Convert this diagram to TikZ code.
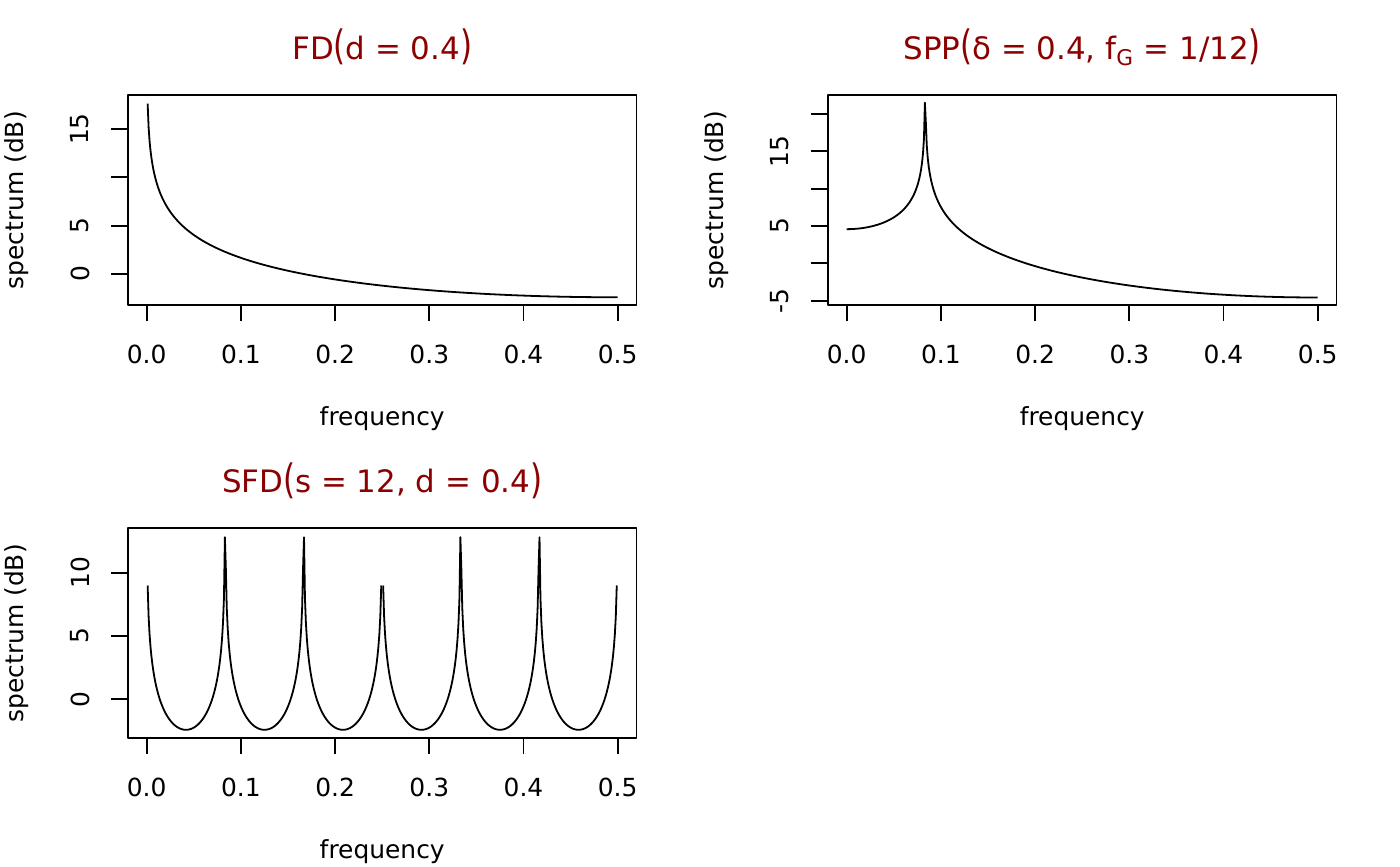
\documentclass[tikz,border=0pt]{standalone}
\usepackage{fontspec}
\setmainfont{DejaVu Sans}
\usepackage{graphicx}

\definecolor{titlered}{RGB}{139,0,0}

% Tall brackets of the titles
\newcommand{\tlpar}{\raisebox{-0.02em}{\scalebox{1}[1.31]{(}}}
\newcommand{\trpar}{\raisebox{-0.02em}{\scalebox{1}[1.31]{)}}}

\begin{document}
\begin{tikzpicture}[x=0.5bp,y=-0.5bp,line width=0.9bp,line join=round]

\tikzset{
    axlabel/.style={inner sep=0pt, font=\fontsize{12.5}{15}\selectfont},
    ylabel/.style={axlabel, rotate=90},
    plottitle/.style={inner sep=0pt, anchor=base, text=titlered,
        font=\fontsize{15.5}{18}\selectfont},
}

\useasboundingbox (0,0) rectangle (1400,866);

% Plot boxes
\draw (127.9,95.3) rectangle (636.5,305.3);
\draw (827.9,95.3) rectangle (1336.5,305.3);
\draw (127.9,528.3) rectangle (636.5,738.3);

% Titles
\node[plottitle] (titleFD) at (382.2,59.3) {FD\tlpar d = 0.4\trpar};
\node[plottitle] (titleSPP) at (1082.2,59.3)
    {SPP\tlpar δ = 0.4, f\textsubscript{G} = 1/12\trpar};
\node[plottitle] (titleSFD) at (382.2,492.7) {SFD\tlpar s = 12, d = 0.4\trpar};

% Frequency axes
\foreach \px/\py/\nm in {0/0/FD, 700/0/SPP, 0/433/SFD} {
    \foreach \t in {0,...,5} {
        \draw (146.7+94.2*\t+\px,305.3+\py) -- ++(0,16);
        \node[axlabel] (x\nm\t) at (146.7+94.2*\t+\px,354+\py) {0.\t};
    }
    \node[axlabel] (xlab\nm) at (382.2+\px,419+\py) {frequency};
    \node[ylabel] (ylab\nm) at (17+\px,200.3+\py) {spectrum (dB)};
}

% Spectrum axes
\foreach \v in {0,5,10,15}
    \draw (127.9,274-9.667*\v) -- ++(-17,0);
\foreach \v in {0,5,15}
    \node[ylabel] (yFD\v) at (80,274-9.667*\v) {\v};

\foreach \v in {-5,0,...,20}
    \draw (827.9,226-7.467*\v+37.33) -- ++(-17,0);
\foreach \v in {-5,5,15}
    \node[ylabel] (ySPP\v) at (780,226-7.467*\v+37.33) {\v};

\foreach \v in {0,5,10} {
    \draw (127.9,699.3-12.667*\v) -- ++(-17,0);
    \node[ylabel] (ySFD\v) at (80,699.3-12.667*\v) {\v};
}

% Spectrum curves (log10 of 1000 times the value, less 3)
\draw plot[domain=1:500, samples=500, variable=\k]
    ({146.7+0.942*\k}, {274+77.336*(log10(2000*sin(0.18*\k))-3)});
\draw plot[domain=0:500, samples=501, variable=\k]
    ({846.7+0.942*\k}, {263.33+59.733*(log10(2000*abs(cos(0.36*\k)-cos(30)))-3)});
\draw plot[domain=1:249, samples=249, variable=\k]
    ({146.7+0.942*\k}, {699.3+101.336*(log10(2000*abs(sin(2.16*\k)))-3)});
\draw plot[domain=251:499, samples=249, variable=\k]
    ({146.7+0.942*\k}, {699.3+101.336*(log10(2000*abs(sin(2.16*\k)))-3)});

\end{tikzpicture}
\end{document}
